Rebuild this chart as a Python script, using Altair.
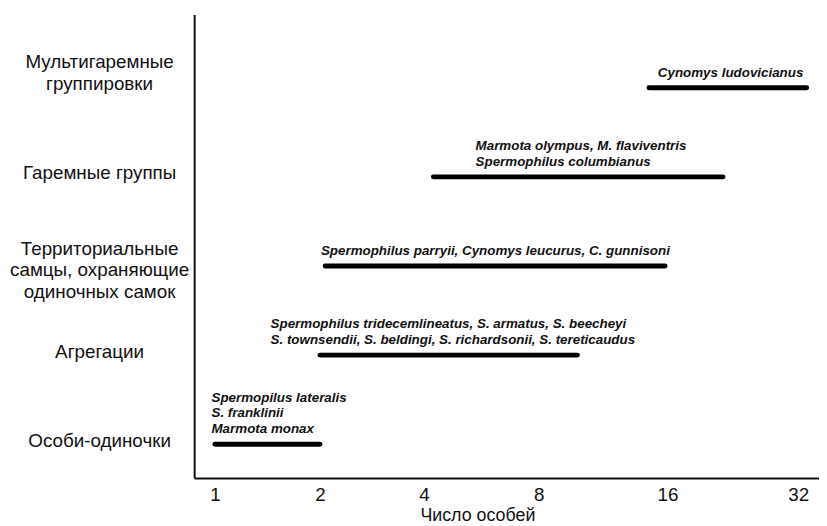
import altair as alt
import pandas as pd

categories = [
    "Мультигаремные\nгруппировки",
    "Гаремные группы",
    "Территориальные\nсамцы, охраняющие\nодиночных самок",
    "Агрегации",
    "Особи-одиночки",
]
bar_start = [14.85, 4.33, 2.1, 2.0, 1.0]
bar_end = [33.3, 22.8, 15.85, 10.4, 2.0]
species = [
    "Cynomys ludovicianus",
    "Marmota olympus, M. flaviventris\nSpermophilus columbianus",
    "Spermophilus parryii, Cynomys leucurus, C. gunnisoni",
    "Spermophilus tridecemlineatus, S. armatus, S. beecheyi\nS. townsendii, S. beldingi, S. richardsonii, S. tereticaudus",
    "Spermopilus lateralis\nS. franklinii\nMarmota monax",
]
label_start = [15.4, 5.8, 2.02, 1.53, 0.97]
x_ticks = [1, 2, 4, 8, 16, 32]
x_title = "Число особей"

bars_df = pd.DataFrame({
    "category": categories,
    "start": bar_start,
    "end": bar_end,
})

# one row per printed line of the species labels; "above" = lines below it
rows = []
for cat, sp, lx in zip(categories, species, label_start):
    parts = sp.split("\n")
    for i, part in enumerate(parts):
        rows.append({"category": cat, "line": part, "label_x": lx,
                     "above": len(parts) - 1 - i})
lines_df = pd.DataFrame(rows)

ink = "#111111"
nlines = "length(split(datum.value, '\\n'))"

x_scale = alt.Scale(
    type="linear",
    domain=[0.82] + x_ticks + [35.2],
    range=[0, 21, 127, 232, 348, 478, 610, 631],
    nice=False,
    zero=False,
)
x_axis = alt.Axis(
    values=x_ticks,
    ticks=False,
    grid=False,
    domainColor=ink,
    domainWidth=2,
    labelFontSize=19,
    labelColor=ink,
    labelPadding=8,
    labelFlush=False,
    labelOverlap=False,
    format="d",
    title=x_title,
    titleFontSize=18,
    titleFontWeight="normal",
    titleColor=ink,
    titlePadding=2,
    titleX=286,
    titleAlign="center",
)
y_enc = alt.Y(
    "category:N",
    sort=categories,
    scale=alt.Scale(type="point", padding=0.6, align=0.685),
    axis=alt.Axis(
        title=None,
        ticks=False,
        grid=False,
        domainColor=ink,
        domainWidth=2,
        labelAlign="center",
        labelBaseline="middle",
        labelPadding=96,
        labelFontSize=19,
        labelLineHeight=22,
        labelColor=ink,
        labelLimit=0,
        labelOverlap=False,
        labelExpr="split(datum.label, '\\n')",
        labelOffset={
            "condition": [
                {"test": nlines + " == 3", "value": -18},
                {"test": nlines + " == 2", "value": -26},
            ],
            "value": -4,
        },
    ),
)

bars = alt.Chart(bars_df).mark_rule(
    strokeWidth=5, strokeCap="round", color="#000000"
).encode(
    x=alt.X("start:Q", scale=x_scale, axis=x_axis),
    x2="end:Q",
    y=y_enc,
)

texts = alt.Chart(lines_df).mark_text(
    align="left",
    baseline="alphabetic",
    dy=-11,
    fontSize=13.5,
    fontStyle="italic",
    fontWeight="bold",
    color=ink,
).encode(
    x=alt.X("label_x:Q", scale=x_scale, axis=x_axis),
    y=y_enc,
    yOffset=alt.YOffset(
        "above:Q",
        scale=alt.Scale(domain=[0, 2], range=[0, -32], nice=False, zero=False),
    ),
    text="line:N",
)

chart = alt.layer(bars, texts).properties(
    width=631,
    height=468,
    autosize=alt.AutoSizeParams(type="none"),
    padding={"left": 188, "top": 4, "right": 0, "bottom": 45},
    background="white",
).configure(font="Liberation Sans").configure_view(stroke=None)

chart.save("out.html", embed_options={"renderer": "svg", "actions": False})
